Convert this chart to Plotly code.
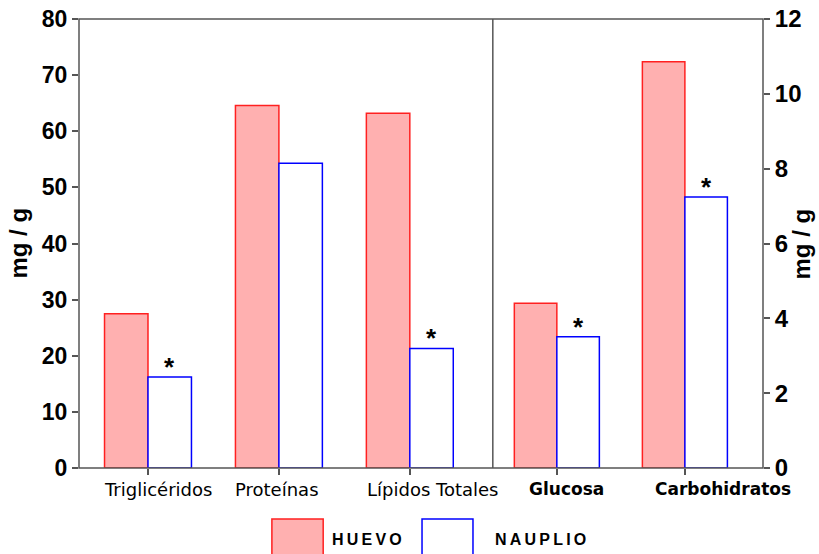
import plotly.graph_objects as go

# ---- data ----
cats_left = ["Triglicéridos", "Proteínas", "Lípidos Totales"]
huevo_left = [27.5, 64.6, 63.2]
nauplio_left = [16.2, 54.3, 21.3]

cats_right = ["Glucosa", "Carbohidratos"]
huevo_right = [4.40, 10.86]
nauplio_right = [3.51, 7.24]

signif_left = [True, False, True]
signif_right = [True, True]

left_ticks = [0, 10, 20, 30, 40, 50, 60, 70, 80]
right_ticks = [0, 2, 4, 6, 8, 10, 12]

series_names = ["HUEVO", "NAUPLIO"]

# ---- styles ----
HUEVO_FILL = "#FFB0B0"
HUEVO_LINE = "#FF2020"
NAUP_FILL = "#FFFFFF"
NAUP_LINE = "#0000FF"
FRAME = "#555555"
SPLIT = 0.605
TS = "\u2009"  # thin space for letter-spaced legend labels
LABEL_XSHIFT_LEFT = [10, -2, 23]   # label placement offsets (px) as in the original
LABEL_XSHIFT_RIGHT = [10, 38]

fig = go.Figure()
fig.add_trace(go.Bar(x=cats_left, y=huevo_left, name=series_names[0], offsetgroup="h",
                     marker=dict(color=HUEVO_FILL, line=dict(color=HUEVO_LINE, width=1.5)),
                     xaxis="x", yaxis="y", showlegend=False))
fig.add_trace(go.Bar(x=cats_left, y=nauplio_left, name=series_names[1], offsetgroup="n",
                     marker=dict(color=NAUP_FILL, line=dict(color=NAUP_LINE, width=1.5)),
                     xaxis="x", yaxis="y", showlegend=False))
fig.add_trace(go.Bar(x=cats_right, y=huevo_right, name=series_names[0], offsetgroup="h",
                     marker=dict(color=HUEVO_FILL, line=dict(color=HUEVO_LINE, width=1.5)),
                     xaxis="x2", yaxis="y2", showlegend=False))
fig.add_trace(go.Bar(x=cats_right, y=nauplio_right, name=series_names[1], offsetgroup="n",
                     marker=dict(color=NAUP_FILL, line=dict(color=NAUP_LINE, width=1.5)),
                     xaxis="x2", yaxis="y2", showlegend=False))

annotations = []
star_font = dict(family="Liberation Sans", size=26, color="black")
for i, (v, s) in enumerate(zip(nauplio_left, signif_left)):
    if s:
        annotations.append(dict(x=i + 0.166, y=v, xref="x", yref="y", text="<b>*</b>",
                                showarrow=False, xanchor="center", yanchor="bottom", yshift=-7,
                                font=star_font))
for i, (v, s) in enumerate(zip(nauplio_right, signif_right)):
    if s:
        annotations.append(dict(x=i + 0.168, y=v, xref="x2", yref="y2", text="<b>*</b>",
                                showarrow=False, xanchor="center", yanchor="bottom", yshift=-7,
                                font=star_font))

# category labels (placed like the original, slightly right of the ticks)
for c, dx in zip(cats_left, LABEL_XSHIFT_LEFT):
    annotations.append(dict(x=c, y=0, xref="x", yref="y", text=c, showarrow=False,
                            xanchor="center", yanchor="middle", xshift=dx, yshift=-21,
                            font=dict(family="DejaVu Sans", size=18, color="black")))
for c, dx in zip(cats_right, LABEL_XSHIFT_RIGHT):
    annotations.append(dict(x=c, y=0, xref="x2", yref="y2", text="<b>" + c + "</b>",
                            showarrow=False, xanchor="center", yanchor="middle",
                            xshift=dx, yshift=-21,
                            font=dict(family="DejaVu Sans", size=17, color="black")))

# axis titles
title_font = dict(family="Liberation Sans", size=24, color="black")
annotations.append(dict(x=-0.089, y=0.5, xref="paper", yref="paper", text="<b>mg / g</b>",
                        textangle=-90, showarrow=False, xanchor="center", yanchor="middle",
                        font=title_font))
annotations.append(dict(x=1.057, y=0.5, xref="paper", yref="paper", text="<b>mg / g</b>",
                        textangle=-90, showarrow=False, xanchor="center", yanchor="middle",
                        font=title_font))

# legend texts
leg_font = dict(family="Liberation Sans", size=16, color="black")
annotations.append(dict(x=0.367, y=-0.160, xref="paper", yref="paper",
                        text="<b>" + TS.join(series_names[0]) + "</b>",
                        xanchor="left", yanchor="middle", showarrow=False, font=leg_font))
annotations.append(dict(x=0.605, y=-0.160, xref="paper", yref="paper",
                        text="<b>" + TS.join(series_names[1]) + "</b>",
                        xanchor="left", yanchor="middle", showarrow=False, font=leg_font))

shapes = [
    dict(type="rect", xref="paper", yref="paper", x0=0, x1=1, y0=0, y1=1,
         line=dict(color=FRAME, width=1.5)),
    dict(type="line", xref="paper", yref="paper", x0=SPLIT, x1=SPLIT, y0=0, y1=1,
         line=dict(color=FRAME, width=1.5)),
    # legend swatches
    dict(type="rect", xref="paper", yref="paper", x0=0.282, x1=0.357, y0=-0.1136, y1=-0.21,
         fillcolor=HUEVO_FILL, line=dict(color=HUEVO_LINE, width=1.5)),
    dict(type="rect", xref="paper", yref="paper", x0=0.5015, x1=0.576, y0=-0.1136, y1=-0.21,
         fillcolor=NAUP_FILL, line=dict(color=NAUP_LINE, width=1.5)),
]

axis_common = dict(showline=False, showgrid=False, zeroline=False, automargin=False,
                   ticks="outside", ticklen=6, tickcolor=FRAME, tickwidth=1.5,
                   ticklabeloverflow="allow")

fig.update_layout(
    width=819, height=554,
    margin=dict(l=79, r=56, t=19, b=86, autoexpand=False),
    paper_bgcolor="white", plot_bgcolor="white",
    barmode="group", bargap=0.336, bargroupgap=0,
    showlegend=False,
    xaxis=dict(domain=[0, SPLIT], range=[-0.527, 2.634], type="category", anchor="y",
               showticklabels=False, **axis_common),
    xaxis2=dict(domain=[SPLIT, 1], range=[-0.5, 1.61], type="category", anchor="y2",
                showticklabels=False, **axis_common),
    yaxis=dict(range=[0, 80], tickvals=left_ticks, anchor="x",
               tickfont=dict(family="Liberation Sans", size=23, color="black", weight="bold"),
               **axis_common),
    yaxis2=dict(range=[0, 12], tickvals=right_ticks, side="right", anchor="x2",
                tickfont=dict(family="Liberation Sans", size=24, color="black", weight="bold"),
                **axis_common),
    annotations=annotations,
    shapes=shapes,
)

fig.write_html("out.html", config={"displayModeBar": False},
               post_script="document.body.style.margin='0';")
